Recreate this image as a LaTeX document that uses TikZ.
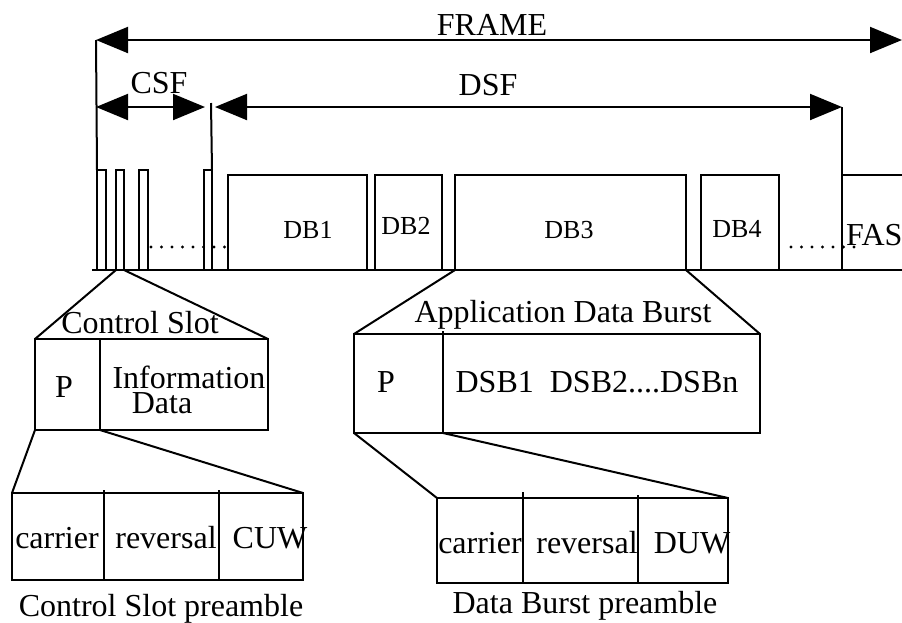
\documentclass[tikz,border=0pt]{standalone}
\usepackage{fontspec}
\setmainfont{Liberation Serif}
\usetikzlibrary{arrows.meta}
\begin{document}
\begin{tikzpicture}[x=1pt,y=-1pt,
  ln/.style={line width=2pt},
  dimarrow/.style={line width=2pt,{Triangle[length=32pt,width=26pt]}-{Triangle[length=32pt,width=26pt]}},
  box/.style={draw,line width=2pt,inner sep=0pt,outer sep=0pt,anchor=north west},
  lbl/.style={inner sep=0pt,anchor=base,font=\fontsize{32}{34}\selectfont},
  dblbl/.style={inner sep=0pt,anchor=base,font=\fontsize{26}{28}\selectfont},
  dotmark/.style={fill=black}
]
\useasboundingbox (0,0) rectangle (902,622);

% frame level slots
\node[box,minimum width=9pt,minimum height=100pt] (s1) at (97,170) {};
\node[box,minimum width=8pt,minimum height=100pt] (s2) at (116,170) {};
\node[box,minimum width=9pt,minimum height=100pt] (s3) at (139,170) {};
\node[box,minimum width=8pt,minimum height=100pt] (s4) at (204,170) {};
\node[box,minimum width=139pt,minimum height=95pt] (db1) at (228,175) {};
\node[box,minimum width=67pt,minimum height=95pt] (db2) at (375,175) {};
\node[box,minimum width=231pt,minimum height=95pt] (db3) at (455,175) {};
\node[box,minimum width=78pt,minimum height=95pt] (db4) at (701,175) {};
\node[dblbl] (t1) at (308,238) {DB1};
\node[dblbl] (t2) at (406,234) {DB2};
\node[dblbl] (t3) at (569,238) {DB3};
\node[dblbl] (t4) at (737,237) {DB4};

% FAS box (cut by the right edge)
\coordinate (fastl) at (842,175);
\coordinate (fasbl) at (842,270);
\draw[ln] (910,175) -- (fastl) -- (fasbl);
\node[lbl,anchor=base west] (fas) at (846,245) {FAS};

% base line
\coordinate (bl0) at (92,270);
\coordinate (bl1) at (904,270);
\draw[ln] (bl0) -- (bl1);

% dots
\foreach \i in {0,...,7} \fill[dotmark] (151+10.5*\i,247) circle (1.6pt);
\foreach \i in {0,...,6} \fill[dotmark] (791+10.5*\i,247) circle (1.6pt);

% dimension arrows
\coordinate (fr0) at (96,40);
\coordinate (fr1) at (902,40);
\coordinate (csf0) at (96,107);
\coordinate (csf1) at (205,107);
\coordinate (dsf0) at (215,107);
\coordinate (dsf1) at (842,107);
\coordinate (v2) at (211,103);
\draw[dimarrow] (fr0) -- (fr1);
\draw[dimarrow] (csf0) -- (csf1);
\draw[dimarrow] (dsf0) -- (dsf1);
\draw[ln] (fr0) -- (s1.north west);
\draw[ln] (v2) -- (s4.north east);
\draw[ln] (dsf1) -- (fastl);
\node[lbl] (frame) at (492,35) {FRAME};
\node[lbl] (csf) at (159,93) {CSF};
\node[lbl] (dsf) at (488,95) {DSF};

% control slot
\node[box,minimum width=233pt,minimum height=91pt] (cs) at (35,339) {};
\coordinate (csd0) at (100,339);
\coordinate (csd1) at (100,430);
\draw[ln] (csd0) -- (csd1);
\draw[ln] (s2.south west) -- (cs.north west);
\draw[ln] (s2.south east) -- (cs.north east);
\node[lbl] (cstitle) at (140,333) {Control Slot};
\node[lbl] (csp) at (64,397) {P};
\node[lbl] (csinfo) at (189,388) {Information};
\node[lbl] (csdata) at (162,413) {Data};

% control slot preamble
\node[box,minimum width=291pt,minimum height=87pt] (cp) at (12,493) {};
\coordinate (cpd0) at (104,490);
\coordinate (cpd1) at (104,580);
\coordinate (cpe0) at (219,490);
\coordinate (cpe1) at (219,580);
\draw[ln] (cpd0) -- (cpd1);
\draw[ln] (cpe0) -- (cpe1);
\draw[ln] (cs.south west) -- (cp.north west);
\draw[ln] (csd1) -- (cp.north east);
\node[lbl] (cpc) at (57,548) {carrier};
\node[lbl] (cpr) at (166,548) {reversal};
\node[lbl] (cpu) at (270,548) {CUW};
\node[lbl] (cptitle) at (161,616) {Control Slot preamble};

% application data burst
\node[box,minimum width=406pt,minimum height=99pt] (ab) at (354,334) {};
\coordinate (abd0) at (443,331);
\coordinate (abd1) at (443,433);
\draw[ln] (abd0) -- (abd1);
\draw[ln] (db3.south west) -- (ab.north west);
\draw[ln] (db3.south east) -- (ab.north east);
\node[lbl] (abtitle) at (563,322) {Application Data Burst};
\node[lbl] (abp) at (386,392) {P};
\node[lbl] (abdsb) at (597,392) {DSB1\ \ DSB2....DSBn};

% data burst preamble
\node[box,minimum width=291pt,minimum height=85pt] (dp) at (437,498) {};
\coordinate (dpd0) at (523,492);
\coordinate (dpd1) at (523,583);
\coordinate (dpe0) at (638,495);
\coordinate (dpe1) at (638,583);
\draw[ln] (dpd0) -- (dpd1);
\draw[ln] (dpe0) -- (dpe1);
\draw[ln] (ab.south west) -- (dp.north west);
\draw[ln] (abd1) -- (dp.north east);
\node[lbl] (dpc) at (480,553) {carrier};
\node[lbl] (dpr) at (587,553) {reversal};
\node[lbl] (dpu) at (692,553) {DUW};
\node[lbl] (dptitle) at (585,613) {Data Burst preamble};
\end{tikzpicture}
\end{document}
